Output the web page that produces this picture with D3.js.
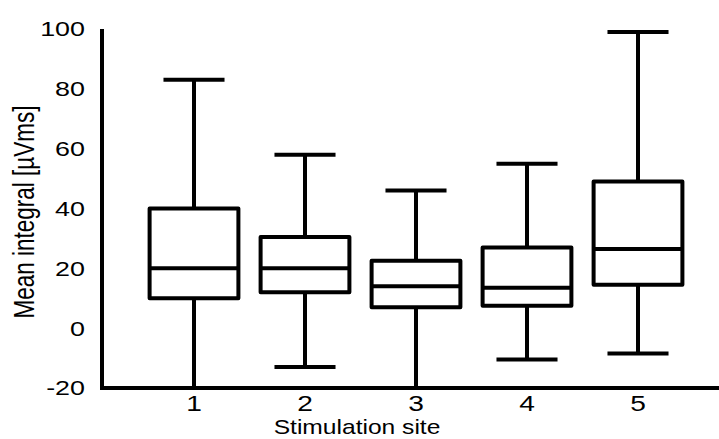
<!DOCTYPE html>
<html>
<head>
<meta charset="utf-8">
<script src="https://cdn.jsdelivr.net/npm/d3@7"></script>
<style>
  html, body { margin: 0; padding: 0; background: #fff; }
  svg { display: block; }
  text { font-family: "Liberation Sans", Arial, Helvetica, sans-serif; fill: #000; }
</style>
</head>
<body>
<svg id="chart" width="719" height="439"></svg>
<script>
// ---- data ----
const categories  = ["1", "2", "3", "4", "5"];
const whiskerHigh = [83, 58, 46, 55, 99];
const q3Values    = [40, 30.5, 22.5, 27, 49];
const medians     = [20, 20, 14, 13.5, 26.5];
const q1Values    = [10, 12, 7, 7.5, 14.5];
const whiskerLow  = [-20, -13, -20, -10.5, -8.5];
const yTicks      = [-20, 0, 20, 40, 60, 80, 100];
const xTitle = "Stimulation site";
const yTitle = "Mean integral [\u00B5Vms]";

const svg = d3.select("#chart");
const W = 719, H = 439;
const axisX = 102;
const sx = 1.28; // horizontal stretch of the reference's text

const y = d3.scaleLinear().domain([-20, 100]).range([388, 29]);
const x = d3.scalePoint().domain(categories).range([194, 638]);
const step = x.step();
const boxW = step * 0.8;
const capW = step * 0.55;

const data = categories.map((c, i) => ({
  c, hi: whiskerHigh[i], q3: q3Values[i], med: medians[i], q1: q1Values[i], lo: whiskerLow[i]
}));

const lw = 4;
const g = svg.append("g")
  .attr("stroke", "#000").attr("stroke-width", lw)
  .attr("fill", "none").attr("stroke-linejoin", "round");

data.forEach(d => {
  const cx = x(d.c);
  g.append("line").attr("x1", cx).attr("x2", cx).attr("y1", y(d.hi)).attr("y2", y(d.q3));
  g.append("line").attr("x1", cx - capW / 2).attr("x2", cx + capW / 2).attr("y1", y(d.hi)).attr("y2", y(d.hi));
  g.append("line").attr("x1", cx).attr("x2", cx).attr("y1", y(d.q1)).attr("y2", y(d.lo));
  g.append("line").attr("x1", cx - capW / 2).attr("x2", cx + capW / 2).attr("y1", y(d.lo)).attr("y2", y(d.lo));
  g.append("rect").attr("x", cx - boxW / 2).attr("width", boxW)
    .attr("y", y(d.q3)).attr("height", y(d.q1) - y(d.q3));
  g.append("line").attr("x1", cx - boxW / 2).attr("x2", cx + boxW / 2).attr("y1", y(d.med)).attr("y2", y(d.med));
});

const ax = svg.append("g").attr("stroke", "#000").attr("stroke-width", lw).attr("fill", "none");
ax.append("path").attr("d", `M${axisX},${y(100)}V${y(-20)}H${W}`).attr("stroke-linejoin", "miter");

svg.append("g").selectAll("text").data(yTicks).join("text")
  .attr("transform", d => `translate(85,${y(d)}) scale(${sx},1)`)
  .attr("text-anchor", "end")
  .attr("dominant-baseline", "central")
  .attr("font-size", 21)
  .text(d => d);

svg.append("g").selectAll("text").data(categories).join("text")
  .attr("transform", d => `translate(${x(d)},411) scale(${sx},1)`)
  .attr("text-anchor", "middle")
  .attr("font-size", 22)
  .text(d => d);

svg.append("text")
  .attr("transform", `translate(357,434) scale(1.2,1)`)
  .attr("text-anchor", "middle")
  .attr("font-size", 20.5)
  .text(xTitle);

svg.append("text")
  .attr("transform", `translate(34,212) scale(1.3,1) rotate(-90)`)
  .attr("text-anchor", "middle")
  .attr("font-size", 22.5)
  .text(yTitle);
</script>
</body>
</html>
